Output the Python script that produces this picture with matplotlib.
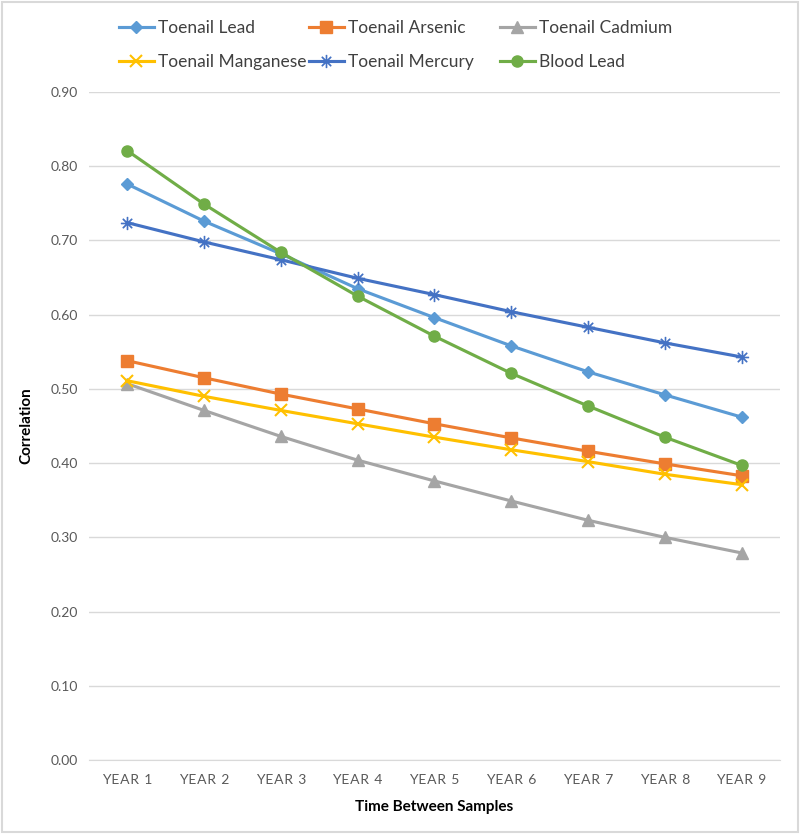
import matplotlib
matplotlib.use("Agg")
import matplotlib.pyplot as plt
from matplotlib.patches import Rectangle

plt.rcParams['font.family'] = ['Lato', 'DejaVu Sans']

years = ["YEAR 1", "YEAR 2", "YEAR 3", "YEAR 4", "YEAR 5", "YEAR 6", "YEAR 7", "YEAR 8", "YEAR 9"]
toenail_lead = [0.776, 0.726, 0.682, 0.635, 0.596, 0.558, 0.523, 0.492, 0.462]
toenail_arsenic = [0.538, 0.515, 0.493, 0.473, 0.453, 0.434, 0.416, 0.399, 0.383]
toenail_cadmium = [0.507, 0.471, 0.436, 0.404, 0.376, 0.349, 0.323, 0.300, 0.279]
toenail_manganese = [0.511, 0.490, 0.471, 0.453, 0.435, 0.418, 0.402, 0.385, 0.371]
toenail_mercury = [0.724, 0.698, 0.674, 0.649, 0.627, 0.604, 0.583, 0.562, 0.543]
blood_lead = [0.821, 0.749, 0.684, 0.625, 0.571, 0.521, 0.477, 0.435, 0.397]

series = [
    ("Toenail Lead", toenail_lead, "#5B9BD5", "D", 6),
    ("Toenail Arsenic", toenail_arsenic, "#ED7D31", "s", 8),
    ("Toenail Cadmium", toenail_cadmium, "#A5A5A5", "^", 8),
    ("Toenail Manganese", toenail_manganese, "#FFC000", "x", 8),
    ("Toenail Mercury", toenail_mercury, "#4472C4", "$\u2733$", 9),
    ("Blood Lead", blood_lead, "#70AD47", "o", 8),
]

fig = plt.figure(figsize=(8, 8.34), dpi=100)
ax = fig.add_axes([0.111, 0.0887, 0.864, 0.801])

x = list(range(len(years)))
handles = []
for name, vals, col, mk, ms in series:
    kw = {}
    if mk == "x":
        kw["markeredgewidth"] = 1.5
    elif mk.startswith("$"):
        kw["markeredgewidth"] = 0.6
    h, = ax.plot(x, vals, color=col, lw=2.25, marker=mk, markersize=ms,
                 markerfacecolor=col, markeredgecolor=col, label=name, **kw)
    handles.append(h)

ax.set_xlim(-0.5, len(years) - 0.5)
ax.set_ylim(0, 0.9)
ax.set_yticks([i / 10 for i in range(10)])
ax.set_yticklabels([f"{i/10:.2f}" for i in range(10)])
ax.set_xticks(x)
ax.set_xticklabels(["\u200a".join(y) for y in years])
ax.yaxis.grid(True, color="#D9D9D9", lw=1)
ax.set_axisbelow(True)
for s in ["top", "right", "left"]:
    ax.spines[s].set_visible(False)
ax.spines["bottom"].set_color("#D9D9D9")
ax.tick_params(axis="both", length=0, colors="#595959", labelsize=10)
ax.tick_params(axis="x", pad=10)
ax.tick_params(axis="y", pad=8)
ax.set_ylabel("Correlation", fontsize=11, fontweight="bold", labelpad=12)
ax.set_xlabel("Time Between Samples", fontsize=11, fontweight="bold", labelpad=10)

columns = [[0, 3], [1, 4], [2, 5]]
col_x = [119, 309, 500]
for cx, idxs in zip(col_x, columns):
    leg = fig.legend([handles[i] for i in idxs], [series[i][0] for i in idxs],
                     loc="upper left", bbox_to_anchor=(cx / 800, 1 - 20 / 834), ncol=1,
                     frameon=False, fontsize=12.5, labelcolor="#404040",
                     handlelength=2.0, handletextpad=0.25, labelspacing=1.02,
                     borderpad=0, borderaxespad=0)

fig.patches.append(Rectangle((0.002, 0.002), 0.996, 0.996, transform=fig.transFigure,
                             fill=False, edgecolor="#D9D9D9", lw=1.5))

fig.savefig("out.png", dpi=100, facecolor="white")
